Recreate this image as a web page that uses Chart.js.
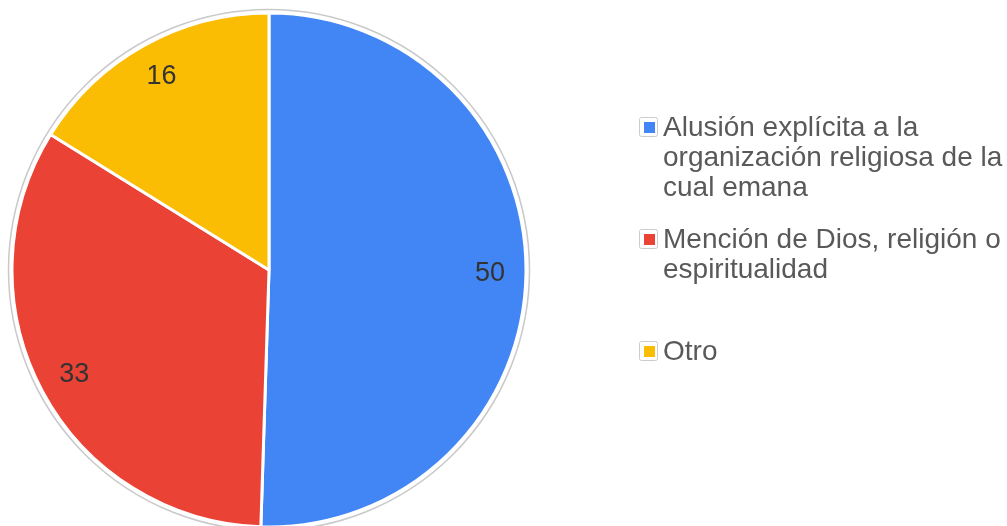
<!DOCTYPE html>
<html>
<head>
<meta charset="utf-8">
<script src="https://cdn.jsdelivr.net/npm/chart.js@4.4.0/dist/chart.umd.min.js"></script>
<style>
  html, body { margin: 0; padding: 0; background: #fff; }
  #wrap { width: 1007px; height: 526px; position: relative; }
</style>
</head>
<body>
<div id="wrap"><canvas id="pie"></canvas></div>
<script>
// categories (already split into legend lines), values and colours
const categories = [
    ['Alusión explícita a la', 'organización religiosa de la', 'cual emana'],
    ['Mención de Dios, religión o', 'espiritualidad'],
    ['Otro']
];
const values = [50, 33, 16];
const colors = ['#4285f4', '#ea4335', '#fbbc04'];

const FONT = '"Liberation Sans", Arial, sans-serif';

// thin grey ring round the pie
const ringPlugin = {
    id: 'ring',
    beforeDatasetsDraw(chart) {
        const arc = chart.getDatasetMeta(0).data[0];
        if (!arc) return;
        const ctx = chart.ctx;
        ctx.save();
        ctx.beginPath();
        ctx.arc(arc.x, arc.y, arc.outerRadius + 3.5, 0, Math.PI * 2);
        ctx.strokeStyle = '#c9c9c9';
        ctx.lineWidth = 1.5;
        ctx.stroke();
        ctx.restore();
    }
};

// value labels inside the slices
const sliceLabels = {
    id: 'sliceLabels',
    afterDatasetsDraw(chart) {
        const ctx = chart.ctx;
        const meta = chart.getDatasetMeta(0);
        ctx.save();
        ctx.font = '27px ' + FONT;
        ctx.fillStyle = '#333333';
        ctx.textAlign = 'center';
        ctx.textBaseline = 'middle';
        meta.data.forEach((arc, i) => {
            const mid = (arc.startAngle + arc.endAngle) / 2;
            const r = arc.outerRadius * 0.86;
            ctx.fillText(String(values[i]), arc.x + Math.cos(mid) * r, arc.y + Math.sin(mid) * r);
        });
        ctx.restore();
    }
};

// legend on the right, drawn on the canvas
const sideLegend = {
    id: 'sideLegend',
    afterDraw(chart) {
        const ctx = chart.ctx;
        const boxX = 639, textX = 663, firstY = 127, slot = 112, lineH = 30;
        ctx.save();
        ctx.font = '28px ' + FONT;
        ctx.textBaseline = 'middle';
        categories.forEach((lines, i) => {
            const y = firstY + i * slot;
            // outer box
            ctx.beginPath();
            ctx.roundRect(boxX + 0.5, y - 9.5, 18, 19, 2);
            ctx.fillStyle = '#ffffff';
            ctx.fill();
            ctx.strokeStyle = '#cccccc';
            ctx.lineWidth = 1;
            ctx.stroke();
            // inner colour swatch
            ctx.fillStyle = colors[i];
            ctx.fillRect(boxX + 5, y - 5, 11, 11);
            // text
            ctx.fillStyle = '#595959';
            lines.forEach((t, j) => ctx.fillText(t, textX, y + 1 + j * lineH));
        });
        ctx.restore();
    }
};

new Chart(document.getElementById('pie'), {
    type: 'pie',
    data: {
        labels: categories,
        datasets: [{
            data: values,
            backgroundColor: colors,
            borderColor: '#ffffff',
            borderWidth: 3,
            radius: 257
        }]
    },
    options: {
        responsive: true,
        maintainAspectRatio: false,
        animation: false,
        layout: { padding: { left: 0, right: 469, top: 14, bottom: 0 } },
        plugins: {
            legend: { display: false },
            tooltip: { enabled: false }
        }
    },
    plugins: [ringPlugin, sliceLabels, sideLegend]
});
</script>
</body>
</html>
